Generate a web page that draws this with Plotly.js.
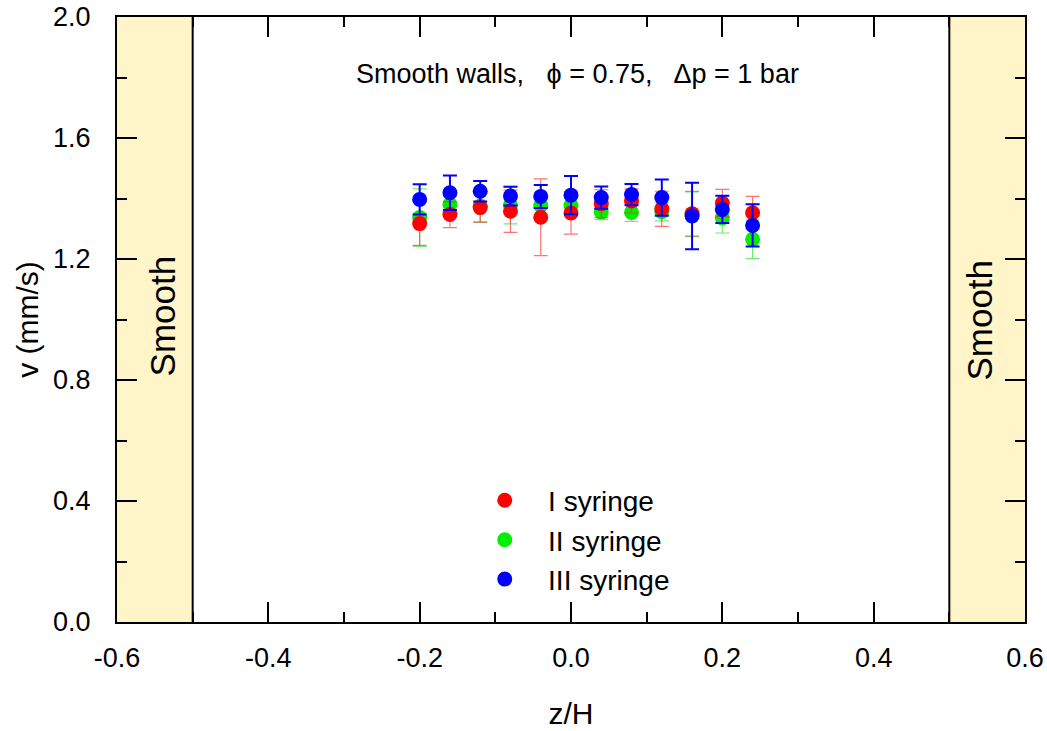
<!DOCTYPE html>
<html>
<head>
<meta charset="utf-8">
<script src="https://cdn.plot.ly/plotly-3.0.1.min.js"></script>
<style>
  html, body { margin: 0; padding: 0; background: #fff; }
  #chart { width: 1047px; height: 731px; }
</style>
</head>
<body>
<div id="chart"></div>
<script>
// Normalised position across the channel
const zH = [-0.2, -0.16, -0.12, -0.08, -0.04, 0, 0.04, 0.08, 0.12, 0.16, 0.2, 0.24];

// Velocity (mm/s) and its uncertainty for each syringe
const vSyringe1 = [1.317, 1.347, 1.370, 1.358, 1.338, 1.352, 1.383, 1.392, 1.366, 1.350, 1.385, 1.353];
const eSyringe1 = [0.072, 0.043, 0.048, 0.070, 0.127, 0.070, 0.046, 0.040, 0.058, 0.074, 0.045, 0.054];

const vSyringe2 = [1.337, 1.381, 1.375, 1.378, 1.377, 1.377, 1.355, 1.354, 1.356, 1.348, 1.336, 1.265];
const eSyringe2 = [0.095, 0.040, 0.053, 0.062, 0.030, 0.030, 0.025, 0.030, 0.030, 0.074, 0.050, 0.064];

const vSyringe3 = [1.397, 1.419, 1.424, 1.408, 1.407, 1.411, 1.403, 1.413, 1.403, 1.342, 1.364, 1.311];
const eSyringe3 = [0.050, 0.057, 0.034, 0.031, 0.038, 0.063, 0.037, 0.035, 0.060, 0.110, 0.045, 0.070];

const seriesNames = ['I syringe', 'II syringe', 'III syringe'];

// Axis ticks (plain hyphen for negatives)
const xTickVals = [-0.6, -0.4, -0.2, 0, 0.2, 0.4, 0.6];
const xTickText = ['-0.6', '-0.4', '-0.2', '0.0', '0.2', '0.4', '0.6'];
const yTickVals = [0, 0.4, 0.8, 1.2, 1.6, 2.0];
const yTickText = ['0.0', '0.4', '0.8', '1.2', '1.6', '2.0'];

const wallLabel = 'Smooth';
const wallEdges = [-0.5, 0.5];
const NB = '\u00A0';
const plotTitle = 'Smooth walls,' + NB + NB + ' \u03D5 = 0.75,' + NB + NB + ' \u0394p = 1 bar';

const FONT = 'Arial, "Liberation Sans", sans-serif';
const LEGEND_PAD = NB + NB + NB;

function series(name, y, err, color, errColor, errThick, rank) {
  return {
    type: 'scatter', mode: 'markers', name: LEGEND_PAD + name, x: zH, y: y,
    legendrank: rank,
    marker: { color: color, size: 15, line: { width: 0 } },
    error_y: { type: 'data', array: err, visible: true, color: errColor, thickness: errThick, width: 7 }
  };
}

// drawing order: II under I, III on top
const data = [
  series(seriesNames[1], vSyringe2, eSyringe2, '#00ee00', 'rgba(0,220,0,0.55)', 1.2, 2),
  series(seriesNames[0], vSyringe1, eSyringe1, '#ff0000', 'rgba(255,40,40,0.65)', 1.2, 1),
  series(seriesNames[2], vSyringe3, eSyringe3, '#0000ff', '#0000ff', 2, 3)
];

const axisCommon = {
  showgrid: false, zeroline: false, showline: true, linecolor: '#000', linewidth: 2,
  mirror: 'allticks', ticks: 'inside', ticklen: 20, tickwidth: 2, tickcolor: '#000',
  tickmode: 'array',
  tickfont: { family: FONT, size: 27, color: '#000' }
};

const layout = {
  width: 1047, height: 731,
  margin: { l: 117, r: 22, t: 17, b: 109 },
  paper_bgcolor: '#fff', plot_bgcolor: '#fff',
  showlegend: true,
  legend: {
    x: 0.405, y: 0.242, xanchor: 'left', yanchor: 'top',
    bgcolor: 'rgba(0,0,0,0)', borderwidth: 0,
    font: { family: FONT, size: 28, color: '#000' },
    tracegroupgap: 0
  },
  xaxis: Object.assign({}, axisCommon, {
    range: [-0.6, 0.6], tickvals: xTickVals, ticktext: xTickText,
    ticklabelstandoff: 11,
    minor: { tickmode: 'linear', tick0: -0.6, dtick: 0.1, ticks: 'inside', ticklen: 10, tickwidth: 2, tickcolor: '#000' },
    title: { text: 'z/H', font: { family: FONT, size: 30, color: '#000' }, standoff: 31 }
  }),
  yaxis: Object.assign({}, axisCommon, {
    range: [0, 2.0], tickvals: yTickVals, ticktext: yTickText,
    ticklabelstandoff: 19,
    minor: { tickmode: 'linear', tick0: 0, dtick: 0.2, ticks: 'inside', ticklen: 10, tickwidth: 2, tickcolor: '#000' },
    title: { text: 'v (mm/s)', font: { family: FONT, size: 30, color: '#000' }, standoff: 6 }
  }),
  shapes: [
    { type: 'rect', xref: 'x', yref: 'paper', x0: -0.6, x1: wallEdges[0], y0: 0, y1: 1,
      fillcolor: '#fff5c8', line: { width: 0 }, layer: 'below' },
    { type: 'rect', xref: 'x', yref: 'paper', x0: wallEdges[1], x1: 0.6, y0: 0, y1: 1,
      fillcolor: '#fff5c8', line: { width: 0 }, layer: 'below' },
    { type: 'line', xref: 'x', yref: 'paper', x0: wallEdges[0], x1: wallEdges[0], y0: 0, y1: 1,
      line: { color: '#000', width: 2 } },
    { type: 'line', xref: 'x', yref: 'paper', x0: wallEdges[1], x1: wallEdges[1], y0: 0, y1: 1,
      line: { color: '#000', width: 2 } }
  ],
  annotations: [
    { text: plotTitle, xref: 'x', yref: 'y', x: 0.008, y: 1.81, showarrow: false,
      font: { family: FONT, size: 27, color: '#000' } },
    { text: wallLabel, xref: 'x', yref: 'y', x: -0.5394, y: 1.013, showarrow: false, textangle: -90,
      font: { family: FONT, size: 35, color: '#000' } },
    { text: wallLabel, xref: 'x', yref: 'y', x: 0.5394, y: 0.997, showarrow: false, textangle: -90,
      font: { family: FONT, size: 35, color: '#000' } }
  ]
};

Plotly.newPlot('chart', data, layout, { staticPlot: true, displayModeBar: false });
</script>
</body>
</html>
